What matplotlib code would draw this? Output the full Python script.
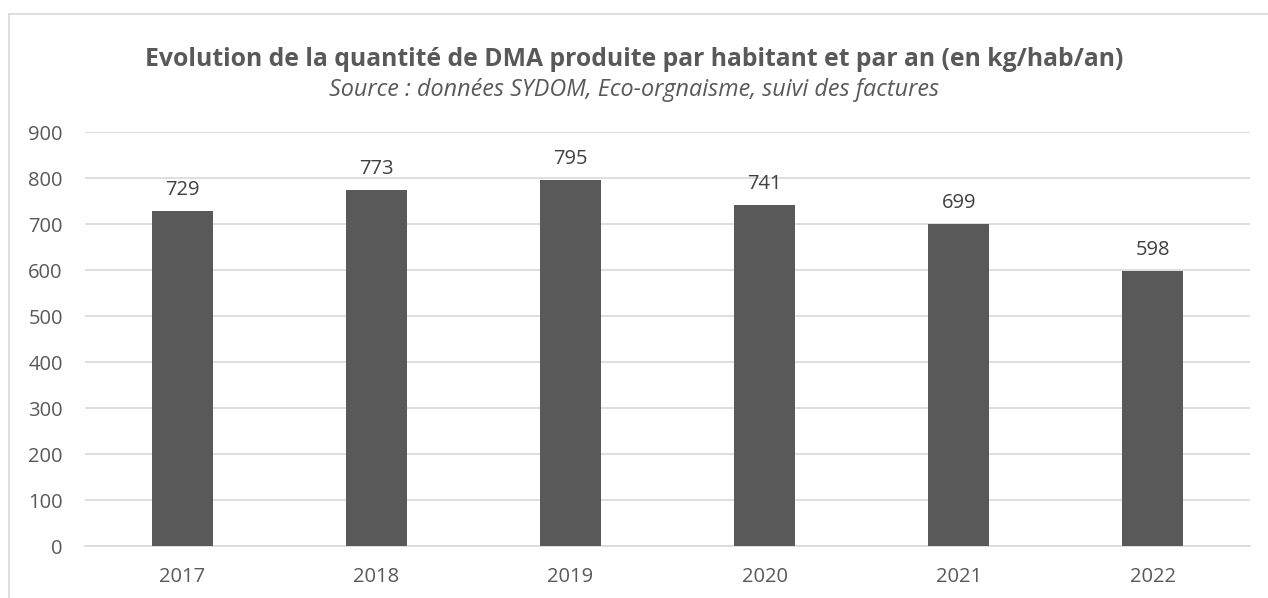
import matplotlib.pyplot as plt
from matplotlib.patches import Rectangle

# Data
years = ['2017', '2018', '2019', '2020', '2021', '2022']
dma_kg = [729, 773, 795, 741, 699, 598]
y_ticks = [0, 100, 200, 300, 400, 500, 600, 700, 800, 900]

title = 'Evolution de la quantité de DMA produite par habitant et par an (en kg/hab/an)'
subtitle = 'Source : données SYDOM, Eco-orgnaisme, suivi des factures'

text_color = '#595959'
grid_color = '#d9d9d9'
bar_color = '#595959'

plt.rcParams['font.family'] = ['Open Sans', 'DejaVu Sans']

fig = plt.figure(figsize=(12.68, 5.98), dpi=100)
ax = fig.add_axes([85 / 1268, 1 - 546 / 598, 1165 / 1268, 414 / 598])

# Outer chart frame (light gray, running off the right and bottom edges)
fig.patches.append(Rectangle((9 / 1268, -0.1), 1.2, 1 - 14 / 598 + 0.1,
                             transform=fig.transFigure, fill=False,
                             edgecolor=grid_color, linewidth=1.2))

x = list(range(len(years)))
bars = ax.bar(x, dma_kg, width=0.315, color=bar_color, zorder=3)

for xi, v in zip(x, dma_kg):
    ax.annotate(str(v), (xi, v), xytext=(0, 8), textcoords='offset points',
                ha='center', va='bottom', fontsize=14.5, color='#404040')

ax.set_xlim(-0.5, len(years) - 0.5)
ax.set_ylim(0, 900)
ax.set_yticks(y_ticks)
ax.set_xticks(x)
ax.set_xticklabels(years)
ax.yaxis.grid(True, color=grid_color, linewidth=1.2, zorder=0)
ax.set_axisbelow(True)
for side in ['top', 'right', 'left']:
    ax.spines[side].set_visible(False)
ax.spines['bottom'].set_color(grid_color)
ax.spines['bottom'].set_linewidth(1.2)
ax.tick_params(axis='both', length=0, labelsize=14.5, labelcolor=text_color)
ax.tick_params(axis='y', pad=16)
ax.tick_params(axis='x', pad=15)

fig.text(0.5, 1 - 59 / 598, title, ha='center', va='center',
         fontsize=17.8, fontweight='bold', color=text_color)
fig.text(0.5, 1 - 90 / 598, subtitle, ha='center', va='center',
         fontsize=16.8, fontstyle='italic', color=text_color)

fig.savefig('out.png', dpi=100, facecolor='white')
